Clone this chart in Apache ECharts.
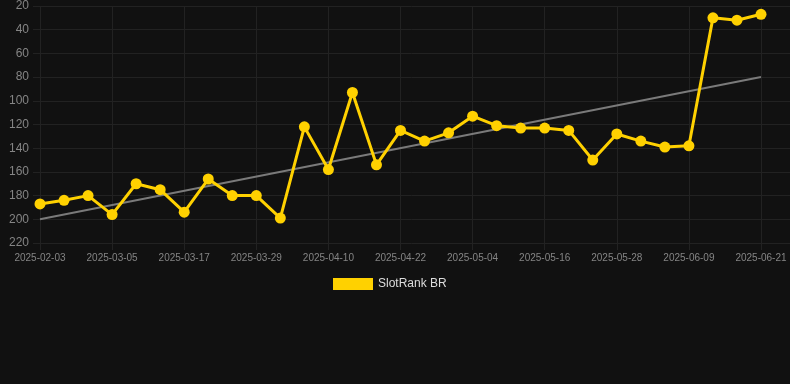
<!DOCTYPE html>
<html>
<head>
<meta charset="utf-8">
<script src="https://cdn.jsdelivr.net/npm/echarts@6/dist/echarts.min.js"></script>
<style>
  html, body { margin: 0; padding: 0; background: #111111; }
  #chart { width: 790px; height: 384px; }
</style>
</head>
<body>
<div id="chart"></div>
<script>
// dates (every third one is labelled on the axis)
const dates = [
  '2025-02-03', '2025-02-25', '2025-03-01', '2025-03-05', '2025-03-09', '2025-03-13',
  '2025-03-17', '2025-03-21', '2025-03-25', '2025-03-29', '2025-04-02', '2025-04-06',
  '2025-04-10', '2025-04-14', '2025-04-18', '2025-04-22', '2025-04-26', '2025-04-30',
  '2025-05-04', '2025-05-08', '2025-05-12', '2025-05-16', '2025-05-20', '2025-05-24',
  '2025-05-28', '2025-06-01', '2025-06-05', '2025-06-09', '2025-06-13', '2025-06-17',
  '2025-06-21'
];

// rank values (lower = better, axis inverted)
const ranks = [
  187, 184, 180, 196, 170, 175, 194, 166, 180, 180, 199, 122, 158, 93, 154, 125,
  134, 127, 113, 121, 123, 123, 125, 150, 128, 134, 139, 138, 30, 32, 27
];

// trend line end values
const trendEnds = [200, 80];

const yTicks = { min: 20, max: 220, step: 20 };

const trend = dates.map((d, i) => {
  if (i === 0) return trendEnds[0];
  if (i === dates.length - 1) return trendEnds[1];
  return null;
});

const gridColor = '#222222';
const labelColor = '#858585';
const yellow = '#FFD100';

const chart = echarts.init(document.getElementById('chart'));

const option = {
  backgroundColor: '#111111',
  animation: false,
  textStyle: { fontFamily: 'Liberation Sans, Arial, sans-serif' },
  legend: {
    data: ['SlotRank BR'],
    top: 273,
    left: 328,
    icon: 'rect',
    itemWidth: 40,
    itemHeight: 12,
    textStyle: { color: '#dddddd', fontSize: 12 }
  },
  grid: [
    { left: 40, right: 29, top: 6, bottom: 141 },
    { left: 33, right: 0, top: 6, bottom: 141 }
  ],
  xAxis: [
    {
      type: 'category',
      gridIndex: 0,
      data: dates,
      boundaryGap: false,
      axisLine: { show: false },
      axisTick: { show: true, interval: 2, length: 7, lineStyle: { color: gridColor } },
      axisLabel: { interval: 2, color: labelColor, fontSize: 10, margin: 10 },
      splitLine: { show: true, interval: 2, lineStyle: { color: gridColor } }
    },
    {
      type: 'value',
      gridIndex: 1,
      show: false
    }
  ],
  yAxis: [
    {
      type: 'value',
      gridIndex: 0,
      inverse: true,
      min: yTicks.min,
      max: yTicks.max,
      interval: yTicks.step,
      axisLine: { show: false },
      axisTick: { show: false },
      axisLabel: { show: false },
      splitLine: { show: false }
    },
    {
      type: 'value',
      gridIndex: 1,
      inverse: true,
      min: yTicks.min,
      max: yTicks.max,
      interval: yTicks.step,
      axisLine: { show: false },
      axisTick: { show: false },
      axisLabel: { color: labelColor, fontSize: 12, margin: 4 },
      splitLine: { show: true, lineStyle: { color: gridColor } }
    }
  ],
  series: [
    {
      name: 'Trend',
      type: 'line',
      xAxisIndex: 0,
      yAxisIndex: 0,
      data: trend,
      connectNulls: true,
      showSymbol: false,
      symbol: 'none',
      lineStyle: { color: '#7a7a7a', width: 2 },
      z: 1
    },
    {
      name: 'SlotRank BR',
      type: 'line',
      xAxisIndex: 0,
      yAxisIndex: 0,
      data: ranks,
      symbol: 'circle',
      symbolSize: 11,
      lineStyle: { color: yellow, width: 3 },
      itemStyle: { color: yellow },
      z: 3
    }
  ]
};

chart.setOption(option);
</script>
</body>
</html>
